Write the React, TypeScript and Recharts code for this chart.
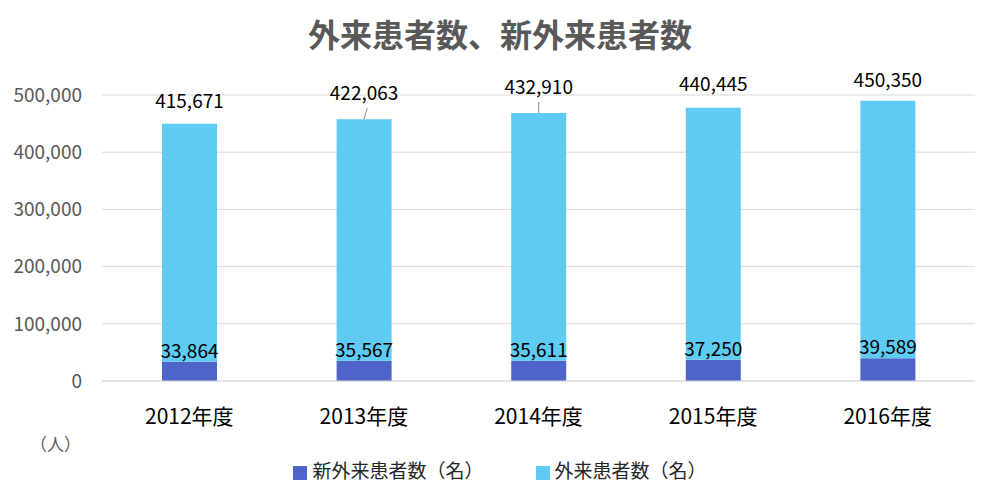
import React from 'react';
import { BarChart, Bar, XAxis, YAxis, CartesianGrid, LabelList } from 'recharts';

const categories = ['2012年度', '2013年度', '2014年度', '2015年度', '2016年度'];
const newPatients = [33864, 35567, 35611, 37250, 39589];
const outPatients = [415671, 422063, 432910, 440445, 450350];
const yTicks = [0, 100000, 200000, 300000, 400000, 500000];
const titleText = '外来患者数、新外来患者数';
const unitText = '（人）';
const series = [
  { key: 'newP', name: '新外来患者数（名）', color: '#4f64c8' },
  { key: 'out', name: '外来患者数（名）', color: '#5fcbf2' },
];

const data = categories.map((c, i) => ({ category: c, newP: newPatients[i], out: outPatients[i] }));

const FONT = '"Noto Sans CJK JP", "Noto Sans", sans-serif';
const fmt = (v: number) => String(v).replace(/\B(?=(\d{3})+(?!\d))/g, ',');

const TOP_LABEL_GAP = [16, 19, 19, 17, 14];
const LEADER = [false, true, true, false, false];

const TopLabel = (props: any) => {
  const { x, y, width, value, index } = props;
  const cx = Number(x) + Number(width) / 2;
  const top = Number(y);
  const gap = TOP_LABEL_GAP[index] ?? 16;
  const baseline = top - gap;
  return (
    <g>
      {LEADER[index] && (
        <line x1={cx + (index === 1 ? 3 : 0)} y1={baseline + 8} x2={cx} y2={top} stroke="#8c8c8c" strokeWidth={1} />
      )}
      <text x={cx} y={baseline} textAnchor="middle" fontSize={19} fill="#000" fontFamily={FONT}>
        {fmt(Number(value))}
      </text>
    </g>
  );
};

export default function App() {
  return (
    <div style={{ position: 'absolute', left: 0, top: 0, width: 1000, height: 500, fontFamily: FONT, background: '#fff' }}>
      <div
        style={{
          position: 'absolute',
          left: 0,
          top: 12,
          width: 1000,
          textAlign: 'center',
          fontSize: 32,
          fontWeight: 'bold',
          color: '#595959',
          lineHeight: '42px',
        }}
      >
        {titleText}
      </div>
      <BarChart
        width={1000}
        height={500}
        data={data}
        margin={{ top: 95, right: 25, bottom: 89, left: 0 }}
        barSize={55}
        style={{ position: 'absolute', left: 0, top: 0 }}
      >
        <CartesianGrid vertical={false} stroke="#d9d9d9" />
        <XAxis
          dataKey="category"
          height={30}
          axisLine={{ stroke: '#d9d9d9' }}
          tickLine={false}
          tickMargin={22}
          tick={{ fill: '#000', fontSize: 21, fontFamily: FONT }}
        />
        <YAxis
          width={102}
          domain={[0, 500000]}
          ticks={yTicks}
          axisLine={false}
          tickLine={false}
          tickMargin={14}
          tickFormatter={(v: number) => fmt(v)}
          tick={{ fill: '#595959', fontSize: 19, fontFamily: FONT }}
        />
        <Bar dataKey="newP" name={series[0].name} stackId="a" fill={series[0].color} isAnimationActive={false}>
          <LabelList
            dataKey="newP"
            position="top"
            offset={4}
            formatter={(v: any) => fmt(Number(v))}
            style={{ fill: '#000', fontSize: 19, fontFamily: FONT }}
          />
        </Bar>
        <Bar dataKey="out" name={series[1].name} stackId="a" fill={series[1].color} isAnimationActive={false}>
          <LabelList dataKey="out" content={<TopLabel />} />
        </Bar>
      </BarChart>
      <div
        style={{
          position: 'absolute',
          left: 30,
          top: 432,
          fontSize: 17,
          color: '#595959',
          lineHeight: '24px',
        }}
      >
        {unitText}
      </div>
      <div
        style={{
          position: 'absolute',
          left: 0,
          top: 457,
          width: 1000,
          display: 'flex',
          justifyContent: 'center',
          alignItems: 'center',
          gap: 52,
          fontSize: 19,
          color: '#262626',
          lineHeight: '26px',
        }}
      >
        {series.map((s) => (
          <div key={s.key} style={{ display: 'flex', alignItems: 'center' }}>
            <span style={{ display: 'inline-block', width: 14, height: 14, background: s.color, marginRight: 5, marginTop: 6 }} />
            <span>{s.name}</span>
          </div>
        ))}
      </div>
    </div>
  );
}
